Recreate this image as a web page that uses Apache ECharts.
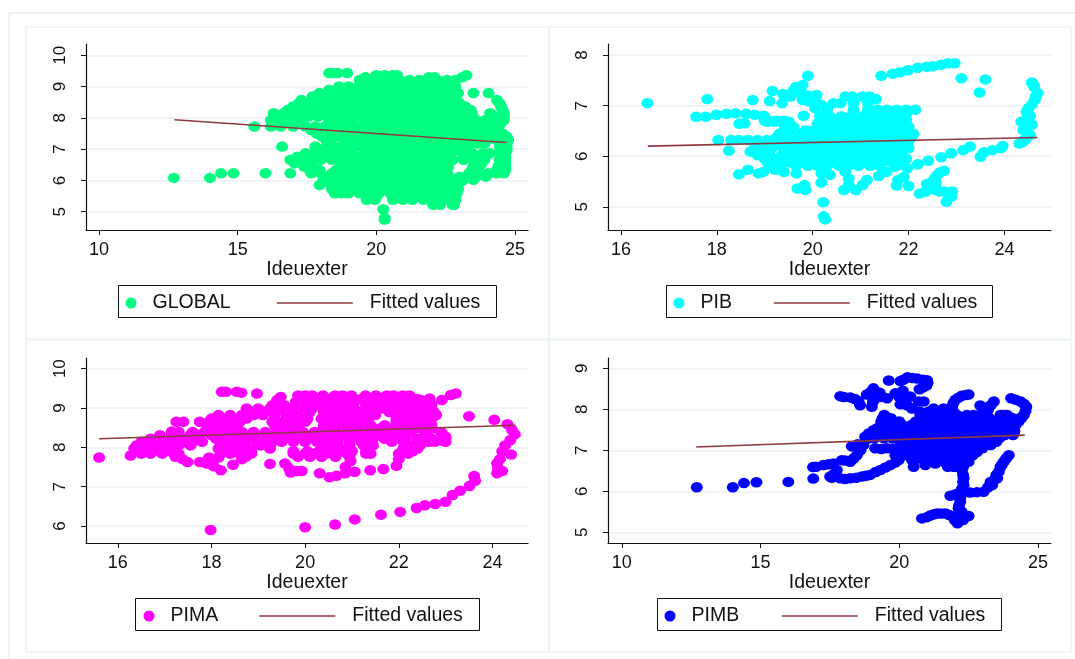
<!DOCTYPE html>
<html><head><meta charset="utf-8">
<style>html,body{margin:0;padding:0;background:#fff}#c{width:1075px;height:659px}</style>
<script src="https://cdn.jsdelivr.net/npm/echarts@6/dist/echarts.min.js"></script>
</head><body><div id="c"></div>
<script>
// Each row: [y, [x, x, ...]]
const globalRows = [
[9.43,[18.3,18.4,18.6,18.95]],
[9.36,[20.0,20.3,20.6,20.75,23.25]],
[9.3,[19.6,21.9,22.1,23.1]],
[9.21,[19.4,19.75,20.1,20.5,20.85,21.2,21.55,21.9,22.2,22.55,22.85]],
[9.1,[19.5,19.9,20.3,20.7,21.05,21.4,21.75,22.1,22.45,22.75]],
[9.0,[18.65,19.0,19.35,19.7,20.1,20.45,20.8,21.15,21.5,21.85,22.2,22.55,22.85]],
[8.9,[18.3,18.85,19.2,19.55,19.95,20.3,20.65,21.0,21.35,21.7,22.05,22.4,22.75]],
[8.79,[17.95,18.3,18.65,19.0,19.4,19.75,20.1,20.5,20.85,21.2,21.55,21.9,22.3,22.65,22.95,23.5,24.05]],
[8.68,[17.7,18.1,18.45,18.85,19.2,19.6,19.95,20.3,20.7,21.05,21.4,21.75,22.1,22.5,22.8]],
[8.57,[17.3,17.7,18.05,18.4,18.8,19.15,19.5,19.9,20.25,20.6,21.0,21.35,21.7,22.05,22.4,22.75,22.9,24.35]],
[8.46,[17.2,17.55,17.95,18.3,18.65,19.05,19.4,19.75,20.1,20.45,20.85,21.2,21.55,21.9,22.3,22.65,23.0,24.45]],
[8.36,[17.0,17.4,17.75,18.1,18.5,18.85,19.2,19.6,19.95,20.3,20.65,21.05,21.4,21.75,22.1,22.5,22.85,23.2,24.5]],
[8.25,[16.8,17.2,17.55,17.9,18.3,18.65,19.05,19.4,19.75,20.1,20.5,20.85,21.2,21.6,21.95,22.3,22.65,23.05,23.4,24.55]],
[8.15,[16.3,16.65,17.0,17.4,17.75,18.1,18.5,18.85,19.2,19.6,19.95,20.3,20.7,21.05,21.4,21.8,22.15,22.5,22.85,23.25,23.45,24.1,24.6]],
[8.04,[16.4,16.8,17.15,17.55,17.9,18.3,18.7,19.0,19.4,19.8,20.15,20.5,20.9,21.25,21.6,21.95,22.35,22.7,23.05,23.45,24.3,24.6]],
[7.93,[16.2,16.55,16.95,17.25,18.3,18.65,18.95,19.65,20.0,20.35,20.7,21.05,21.45,21.8,22.15,22.5,22.9,23.25,23.6,23.95,24.25,24.6]],
[7.83,[16.35,16.7,17.1,18.4,18.75,19.1,19.85,20.2,20.55,20.9,21.3,21.65,22.0,22.35,22.75,23.1,23.45,23.8,24.15,24.5]],
[7.72,[15.6,16.2,16.55,17.0,17.45,17.8,18.15,18.5,18.85,19.4,19.75,20.1,20.45,20.85,21.2,21.55,21.9,22.3,22.65,23.0,23.35,23.75,24.1,24.4]],
[7.61,[17.65,18.0,18.35,18.7,19.2,19.6,19.95,20.3,20.7,21.05,21.4,21.8,22.15,22.5,22.85,23.25,23.6,23.95,24.3]],
[7.5,[17.85,18.2,18.55,19.1,19.45,19.8,20.2,20.55,20.9,21.3,21.65,22.0,22.35,22.75,23.1,23.45,23.85,24.2,24.55]],
[7.4,[18.05,18.4,18.65,19.0,19.35,19.7,20.1,20.45,20.8,21.2,21.55,21.9,22.25,22.65,23.0,23.35,23.75,24.1,24.5,24.7]],
[7.29,[18.2,18.35,18.9,19.25,19.6,19.95,20.35,20.7,21.05,21.45,21.8,22.15,22.5,22.9,23.25,23.6,24.0,24.35,24.6,24.75]],
[7.18,[18.95,19.3,19.65,20.05,20.4,20.75,21.15,21.5,21.85,22.25,22.6,22.95,23.3,23.65,23.9,24.55,24.7]],
[7.08,[16.6,17.8,18.2,18.5,18.75,19.05,19.4,19.8,20.15,20.5,20.9,21.25,21.6,22.0,22.35,22.7,23.05,23.35,24.45,24.7]],
[6.97,[18.1,18.45,18.8,19.0,19.6,19.95,20.3,20.7,21.05,21.4,21.8,22.15,22.5,22.85,23.2,24.5,24.7]],
[6.87,[17.45,17.8,18.1,18.5,18.85,19.1,19.75,20.1,20.45,20.8,21.2,21.55,21.9,22.25,22.65,23.1,23.45,23.85,24.1,24.5,24.65]],
[6.76,[17.15,17.55,17.9,18.25,18.6,19.0,19.3,19.65,20.05,20.4,20.75,21.1,21.5,21.85,22.2,22.55,23.25,23.6,23.85,24.5,24.65]],
[6.66,[16.9,17.3,17.65,18.0,18.4,18.75,19.1,19.45,19.85,20.2,20.55,20.95,21.3,21.65,22.05,22.4,22.75,23.15,23.7,23.9,24.45,24.65]],
[6.55,[17.05,17.4,18.85,19.2,19.6,19.95,20.3,20.7,21.05,21.4,21.75,22.1,22.45,23.55,23.8,24.45,24.65]],
[6.44,[17.4,17.7,18.7,19.05,19.4,19.75,20.15,20.5,20.85,21.25,21.6,21.95,22.35,22.6,23.5,23.7,24.4,24.65]],
[6.33,[17.6,17.95,18.55,18.9,19.25,19.6,20.0,20.35,20.7,21.1,21.45,21.8,22.15,22.5,23.45,23.65,24.35,24.65]],
[6.23,[14.4,14.85,16.0,16.9,17.65,18.0,18.4,18.75,19.1,19.45,19.85,20.2,20.55,20.95,21.3,21.65,22.05,22.4,22.55,23.35,23.7,24.05,24.35,24.6]],
[6.12,[18.2,18.6,18.95,19.3,19.7,20.05,20.4,20.8,21.15,21.5,21.9,22.25,22.6,23.0,23.3,23.6,23.95]],
[6.08,[12.7,14.0]],
[6.02,[18.1,18.45,18.8,19.15,19.5,19.9,20.25,20.6,21.0,21.35,21.7,22.1,22.45,22.8,23.15,23.5]],
[5.93,[18.3,18.65,19.0,19.35,19.75,20.1,20.45,20.85,21.2,21.55,21.95,22.3,22.65,23.0]],
[5.85,[17.95,18.4,18.8,19.2,19.55,19.9,20.3,20.65,21.0,21.4,21.75,22.1,22.5,22.85]],
[5.72,[18.4,18.7,19.0,19.4,19.75,20.1,20.5,20.85,21.2,21.6,21.95,22.3,22.7,22.95]],
[5.59,[18.5,18.75,19.0,19.4,19.75,20.1,20.5,20.85,21.2,21.6,21.95,22.3,22.7,22.9]],
[5.48,[19.7,20.0,20.7,21.05,21.4,21.8,22.15,22.5,22.85]],
[5.38,[19.65,19.95,20.6,20.95,21.3,21.7,22.05,22.4,22.8,22.85]],
[5.22,[22.05,22.3,22.75,22.8]],
[5.08,[20.25]],[4.8,[20.3]],[4.75,[20.3]]
];
const pibRows = [
[7.84,[22.82,22.96]],[7.81,[22.68]],[7.78,[22.51]],[7.77,[22.38]],[7.75,[22.19]],[7.7,[21.99]],[7.66,[21.82]],[7.63,[21.67]],[7.59,[21.43,19.9]],
[7.54,[23.1]],[7.52,[23.6]],[7.46,[24.57]],[7.42,[24.6]],[7.41,[19.79]],[7.37,[24.62,19.65]],[7.35,[19.75]],[7.3,[19.6]],[7.29,[19.16]],[7.26,[23.48]],[7.25,[24.69,19.72]],[7.23,[19.38]],
[7.21,[20.08]],[7.2,[19.9]],[7.18,[19.54,20.68,20.82,21.04,21.18,24.65]],[7.15,[20.05]],[7.13,[17.8,21.32]],[7.11,[18.75,24.63,19.79]],[7.09,[19.1]],[7.08,[19.93]],
[7.05,[16.55,19.36,20.43,20.58,20.85,21.15]],[7.02,[20.18,24.57]],[6.95,[24.5,20.05]],
[6.92,[20.3,20.85,21.15,21.35,21.55,21.75,21.95,22.14]],[6.88,[24.46]],[6.86,[21.96]],[6.84,[18.2,18.61]],[6.85,[18.39]],[6.82,[17.99,18.79]],
[6.8,[18.98,19.81,24.53]],
[6.79,[20.15,20.35,20.6,20.8,21.05,21.25,21.5,21.7,21.9]],[6.78,[17.57,17.77]],[6.75,[24.47]],
[6.72,[20.2,20.45,20.7,20.9,21.15,21.35,21.55,21.8,21.95]],[6.7,[19.0,19.1,19.25,19.4]],
[6.68,[19.05,19.2,19.35,19.5,24.35]],
[6.65,[18.58,20.1,20.3,20.55,20.75,20.95,21.2,21.4,21.6,21.85]],[6.64,[18.47]],[6.62,[24.57]],
[6.58,[19.6,20.2,20.4,20.65,20.85,21.1,21.3,21.5,21.75,21.95,22.0]],[6.52,[24.39]],
[6.51,[19.4,19.6,19.85,20.0,20.3,20.5,20.7,20.95,21.15,21.4,21.6,21.8,22.0]],[6.5,[24.45]],
[6.44,[19.3,19.55,19.75,20.0,20.2,20.4,20.65,20.85,21.1,21.3,21.5,21.75,21.95,22.1]],[6.42,[24.53]],
[6.37,[19.25,19.5,19.7,19.9,20.15,20.35,20.6,20.8,21.0,21.25,21.45,21.7,21.9,22.05]],[6.35,[24.45]],
[6.32,[18.03,18.3,18.45,18.65,18.85,19.05,24.42]],
[6.3,[19.4,19.6,19.85,20.05,20.25,20.5,20.7,20.95,21.15,21.4,21.6,21.8,22.0]],[6.27,[24.36]],[6.25,[24.31]],
[6.23,[18.8,19.05,19.3,19.55,19.75,20.0,20.2,20.45,20.65,20.9,21.1,21.3,21.55,21.75,21.95]],
[6.2,[23.96]],[6.19,[23.28]],[6.16,[23.93,18.9,19.15,19.4,19.6,19.85,20.05,20.25,20.5,20.7,20.95,21.15,21.35,21.6,21.8,22.0]],[6.12,[23.75,23.14]],[6.11,[18.25]],
[6.09,[18.7,18.95,19.45,19.65,19.9,20.1,20.3,20.55,20.75,21.0,21.2,21.4,21.65,21.85]],[6.08,[23.57]],[6.06,[22.89]],
[6.02,[18.85,19.1,19.35,19.6,19.8,20.0,20.2,20.45,20.65,20.9,21.1,21.3,21.55,21.75]],[5.99,[23.5]],[5.98,[22.68]],
[5.95,[19.0,19.25,19.55,19.75,20.0,20.2,20.4,20.65,20.85,21.1,21.3,21.5,21.75,21.95]],[5.91,[22.41]],
[5.88,[19.05,19.3,19.5,19.75,19.95,20.15,20.4,20.6,20.8,21.05,21.25,21.45,21.65,21.85]],[5.84,[22.19]],
[5.81,[19.1,19.3,19.65,19.9,20.1,20.3,20.55,20.75,20.95,21.2,21.4,21.75]],[5.79,[21.72]],[5.76,[21.97]],
[5.73,[18.65,19.22]],[5.71,[22.74]],[5.69,[18.97,19.4,20.68,21.54]],[5.68,[22.65]],[5.66,[18.87,19.66,20.18]],[5.64,[18.46]],[5.63,[20.36,22.6]],[5.61,[21.38]],
[5.59,[21.9]],[5.57,[22.55]],[5.56,[20.75]],[5.53,[21.13,21.78]],[5.5,[22.5]],[5.48,[20.18]],[5.46,[22.57]],[5.45,[22.38]],[5.43,[19.83,20.75,21.04]],[5.42,[21.75]],[5.41,[22.0]],
[5.36,[19.68]],[5.35,[22.45]],[5.33,[19.85,20.65,20.9,22.57]],[5.3,[22.36,22.65,22.75,22.91]],[5.26,[22.23]],[5.25,[22.85]],[5.2,[22.89]],[5.1,[22.79]],[5.09,[20.22]],[4.81,[20.23]],[4.75,[20.26]]
];
const pimaRows = [
[9.41,[18.22,18.31,18.54]],[9.39,[18.64]],[9.37,[18.97,23.22]],[9.33,[23.11]],
[9.32,[19.85,20.0,20.15,20.38,20.64,20.8,20.99,21.29,21.51,21.74,21.89,22.08,22.23]],[9.28,[19.48]],[9.24,[22.66]],
[9.23,[19.95,20.2,20.5,20.75,21.0,21.2,21.45,21.7,21.95,22.2,22.4]],[9.2,[19.4,22.47,22.92]],
[9.15,[19.8,20.05,20.3,20.55,20.8,21.05,21.3,21.6,21.85,22.1,22.35,22.55,22.65]],
[9.07,[19.3,19.55,19.8,20.0,20.25,20.5,20.75,21.0,21.3,21.5,21.75,22.0,22.25,22.5,22.7]],
[8.99,[18.75,19.0,19.25,19.45,19.65,19.9,20.15,20.55,20.8,21.05,21.4,21.65,21.9,22.15,22.4,22.65]],
[8.9,[18.85,19.1,19.35,19.6,19.8,20.1,20.4,20.7,20.95,21.2,21.5,21.8,22.05,22.3,22.55,22.75]],
[8.82,[18.15,18.4,18.65,18.9,19.1,19.35,19.6,19.85,20.5,20.75,21.0,21.25,21.5,22.05,22.3,22.55,22.8]],[8.79,[23.5]],
[8.73,[18.0,18.25,18.5,18.75,19.35,19.6,19.8,20.05,20.35,20.6,20.85,21.1,21.35,21.95,22.2,22.45,22.7]],[8.7,[24.04]],
[8.65,[17.25,17.4,17.75,17.95,18.2,18.4,18.6,19.3,19.55,19.8,20.0,20.5,20.7,20.95,21.2,21.95,22.2,22.45,22.65]],[8.59,[24.32]],
[8.56,[17.9,18.1,18.35,18.55,19.35,19.6,19.85,20.4,20.65,20.9,21.15,21.4,21.7,22.0,22.25,22.5,22.7]],
[8.48,[18.0,18.25,18.45,19.4,19.6,19.85,20.4,20.65,20.9,21.15,21.4,21.6,21.85,22.1,22.35,22.55,22.7]],[8.44,[24.42]],[8.4,[17.15]],
[8.39,[17.3,17.6,17.85,18.1,18.35,18.65,18.9,19.15,19.4,19.7,19.95,20.2,20.45,20.7,20.95,21.2,21.45,21.7,21.95,22.25,22.55,22.9]],[8.35,[22.92]],[8.33,[24.48]],
[8.31,[16.9,17.15,17.55,17.75,18.0,18.25,18.5,18.7,18.95,19.2,19.45,19.65,19.9,20.1,20.4,20.65,20.85,21.1,21.3,21.55,21.8,22.0,22.6,22.95]],[8.27,[23.0]],
[8.22,[16.7,16.95,17.2,17.4,17.65,18.1,18.35,18.6,18.9,19.2,19.45,19.7,19.95,20.2,20.45,20.7,20.95,21.2,21.45,21.7,21.9,22.15,22.4,22.7,23.0]],[8.18,[24.38]],[8.16,[22.96]],
[8.14,[16.5,16.7,16.95,17.2,17.45,17.6,17.8,18.2,18.45,18.7,19.0,19.3,19.5,19.75,20.0,20.25,20.5,20.7,20.95,21.2,21.4,21.85,22.1,22.4,22.65,22.77,23.0]],[8.1,[22.47]],
[8.05,[24.27,16.4,16.6,16.8,17.05,17.3,17.55,18.2,18.45,18.7,19.05,19.25,20.45,20.7,20.95,21.25,21.45,22.2,22.45]],
[7.97,[16.35,16.55,16.75,17.0,17.25,18.15,18.35,18.55,18.85,19.25,20.4,20.6,20.9,21.35,22.1,22.36,22.4]],[7.93,[22.2]],
[7.9,[24.21,16.45,16.7,16.9,17.15,18.2,18.4,18.65,18.85,19.75,20.05,20.3,20.55,20.8,21.0,21.3,22.1,22.3]],[7.87,[22.06]],
[7.84,[16.5,16.7,16.95,17.2,17.3,18.2,18.4,18.6,18.85,19.75,20.0,20.2,20.45,20.65,20.9,21.3,21.4,22.0,22.2]],[7.82,[24.4]],[7.79,[16.27]],
[7.76,[17.23,18.73,19.85,20.1,20.35,20.65,20.95]],[7.74,[15.6,17.95,18.15]],[7.7,[17.38,18.65,22.0,24.16]],[7.65,[20.97]],[7.63,[17.49,17.75]],[7.59,[17.9,19.57,24.1]],[7.58,[19.25]],
[7.56,[18.46]],[7.53,[21.95]],[7.52,[18.05]],[7.5,[20.86]],[7.46,[19.66,24.12]],[7.45,[21.67]],[7.42,[18.2,21.39]],[7.4,[19.81,19.93,24.21]],[7.38,[21.06]],[7.36,[19.69]],
[7.34,[20.31,20.86,24.1]],[7.28,[20.67]],[7.27,[23.61]],[7.24,[20.52]],[7.15,[23.63]],[7.02,[23.51]],[6.9,[23.31]],[6.79,[23.15]],[6.62,[23.0]],[6.56,[22.78]],[6.53,[22.56]],[6.46,[22.38]],
[6.36,[22.03]],[6.29,[21.62]],[6.17,[21.06]],[6.04,[20.64]],[5.97,[20.0]],[5.9,[17.98]]
];
const pimbRows = [
[8.78,[20.3]],[8.76,[20.47]],[8.75,[20.64]],[8.72,[20.15,20.85]],[8.71,[21.0]],[8.7,[19.62]],[8.69,[20.04]],[8.65,[21.02]],[8.58,[20.98]],[8.53,[20.85]],[8.51,[19.07]],[8.49,[20.73]],[8.45,[20.13]],
[8.42,[18.97]],[8.4,[19.3]],[8.39,[19.86]],[8.36,[18.83,22.5]],[8.35,[22.4]],[8.33,[22.25]],
[8.32,[17.87]],[8.31,[20.4]],[8.3,[18.0,19.3,20.0]],[8.29,[18.23]],[8.28,[22.13]],[8.27,[19.13,19.56,20.16,24.03]],[8.25,[18.4]],[8.23,[22.02,24.2]],[8.2,[18.53]],[8.19,[20.7,20.88,23.41,24.37]],[8.18,[19.05]],[8.15,[21.95]],[8.13,[24.5]],[8.12,[20.04]],[8.1,[18.59,20.28,23.3]],[8.09,[22.92]],
[8.06,[19.01,21.9,24.58]],[8.03,[23.1]],
[8.02,[20.46,21.24,21.6,21.9]],[7.98,[23.2]],[7.95,[24.55]],
[7.94,[20.75,21.05,21.35,21.7,21.95]],
[7.86,[19.46,20.76,21.12,21.48,21.84,22.08,22.44,22.68,22.9,23.04,23.65,23.75,23.89,24.49]],
[7.78,[19.4,19.7,20.8,21.1,21.45,21.8,22.1,22.5,22.85,23.25,23.65,24.0,24.1,24.35,24.4]],
[7.7,[19.35,19.65,20.0,20.6,20.95,21.3,21.65,22.0,22.3,22.7,23.0,23.45,23.8,24.1,24.3]],
[7.62,[19.35,19.7,20.1,20.45,20.8,21.15,21.5,21.85,22.15,22.5,22.85,23.15,23.55,23.9,24.2]],
[7.54,[19.2,19.5,19.85,20.2,20.5,20.85,21.2,21.55,21.9,22.25,22.6,22.95,23.3,23.65,24.0]],[7.49,[19.07]],
[7.46,[19.35,19.65,20.05,20.35,20.7,21.05,21.4,21.75,22.1,22.45,22.8,23.15,23.5,23.85,24.15]],[7.41,[18.9]],
[7.37,[19.0,19.3,19.6,19.95,20.3,20.65,21.0,21.35,21.7,22.05,22.4,22.75,23.1,23.45,23.8,24.1]],[7.33,[18.77]],
[7.29,[18.9,19.1,19.45,19.75,20.15,20.5,20.85,21.2,21.55,21.9,22.25,22.6,22.95,23.3,23.6]],
[7.21,[20.05,20.4,20.75,21.1,21.45,21.8,22.15,22.5,22.85,23.2,23.5]],[7.15,[18.5]],[7.13,[18.71,20.2,20.55,20.9,21.25,21.6,21.95,22.3,22.65,23.0,23.3]],[7.1,[18.29]],
[7.05,[19.13,19.56,20.04,20.2,20.55,20.9,21.25,21.6,21.95,22.3,22.65,23.0]],[7.04,[19.8]],[7.03,[19.35]],[7.0,[18.6]],
[6.96,[20.35,20.7,21.05,21.45,21.8,22.1,22.5,22.8]],[6.9,[20.1]],
[6.88,[18.47,19.86,20.3,20.6,20.95,21.3,21.65,22.0,22.35,22.65,23.95]],[6.8,[18.35,20.7,21.1,21.45,21.8,22.15,22.45,23.85]],[6.76,[17.93,19.98,20.46]],[6.75,[18.05]],
[6.72,[18.23,21.35,21.6,21.95,22.3,22.5,23.77]],[6.7,[19.85]],[6.68,[17.63,21.3]],[6.66,[17.45]],[6.65,[23.7]],[6.64,[17.27,19.68,20.94,21.85,22.2]],[6.6,[17.0,20.52,21.75,21.96,22.0,22.3,23.65]],[6.59,[16.89]],[6.58,[19.5]],
[6.52,[17.75,19.32,22.26]],[6.48,[23.59]],[6.47,[19.15]],[6.42,[17.65]],[6.4,[18.95,22.3,23.5]],[6.38,[18.8]],[6.36,[17.51,18.65]],[6.33,[17.57,18.45]],[6.32,[17.87,18.23,22.32,23.53]],[6.31,[16.9]],[6.3,[18.05]],[6.27,[23.41]],[6.23,[16.0,23.29,22.3]],[6.22,[14.85]],
[6.2,[14.4,23.35]],[6.15,[22.32,23.35]],[6.1,[12.7,14.0,23.2]],[6.05,[22.25]],[6.0,[22.35]],[5.99,[23.04]],[5.98,[22.8]],[5.97,[22.56]],[5.95,[22.14]],[5.92,[22.0]],[5.89,[21.84]],[5.85,[22.2]],[5.75,[22.2]],[5.65,[22.15]],[5.58,[22.14]],[5.5,[22.25]],
[5.46,[21.36,21.5,21.66]],[5.44,[21.25]],[5.42,[22.32,21.8]],[5.41,[21.12]],
[5.4,[22.5]],[5.38,[21.96]],[5.37,[21.0]],[5.34,[20.82,22.1]],[5.3,[22.0,22.15,22.3]],[5.26,[22.08]],[5.22,[22.1]]
];
const fitGlobal = [[12.72,7.94],[24.7,7.21]];
const fitPib = [[16.56,6.2],[24.69,6.37]];
const fitPima = [[15.6,8.22],[24.5,8.56]];
const fitPimb = [[12.68,7.08],[24.52,7.37]];
const ticksX = [[10,15,20,25],[16,18,20,22,24],[16,18,20,22,24],[10,15,20,25]];
const ticksY = [[5,6,7,8,9,10],[5,6,7,8],[6,7,8,9,10],[5,6,7,8,9]];
const names = ['GLOBAL','PIB','PIMA','PIMB'];
const colors = ['#00ff80','#00ffff','#ff00ff','#0000ff'];
const xTitle = 'Ideuexter';
const fitName = 'Fitted values';

const flatten = rows => rows.flatMap(r => r[1].map(x => [x, r[0]]));
const rowsAll = [globalRows, pibRows, pimaRows, pimbRows];
const fits = [fitGlobal, fitPib, fitPima, fitPimb];
const font = 'Liberation Sans';
const frameColor = '#edf3f5';
const lineColor = '#8f3a42';

const boxes = [
 {l:86,w:442,t:44,h:186,xr:[9.53,25.47],yr:[4.415,10.36]},
 {l:608,w:443,t:44,h:186,xr:[15.73,24.97],yr:[4.54,8.22]},
 {l:86,w:442,t:358,h:185,xr:[15.32,24.76],yr:[5.57,10.27]},
 {l:608,w:443,t:358,h:185,xr:[9.5,25.47],yr:[4.74,9.25]}
];
const legends = [
 {x0:118,x1:496,y:285,m:131,line:276},
 {x0:666,x1:992,y:285,m:679,line:773},
 {x0:135,x1:479,y:598,m:149,line:258.5},
 {x0:657,x1:1001,y:598,m:670,line:781}
];

const option = {
 animation:false, backgroundColor:'#fff',
 grid: boxes.map(b=>({left:b.l,top:b.t,width:b.w,height:b.h,containLabel:false})),
 xAxis: boxes.map((b,i)=>({gridIndex:i,type:'value',min:b.xr[0],max:b.xr[1],name:xTitle,nameLocation:'middle',nameGap:27,
   nameTextStyle:{fontFamily:font,fontSize:19.5,color:'#111'},
   axisLine:{onZero:false,lineStyle:{color:'#111',width:1.2}},
   axisTick:{length:5,customValues:ticksX[i],lineStyle:{color:'#111',width:1}},
   axisLabel:{customValues:ticksX[i],fontFamily:font,fontSize:18,color:'#111',margin:11},
   splitLine:{show:false}})),
 yAxis: boxes.map((b,i)=>({gridIndex:i,type:'value',min:b.yr[0],max:b.yr[1],
   axisLine:{onZero:false,lineStyle:{color:'#111',width:1.2}},
   axisTick:{length:5,customValues:ticksY[i],lineStyle:{color:'#111',width:1}},
   axisLabel:{customValues:ticksY[i],fontFamily:font,fontSize:17,color:'#111',rotate:90,margin:17},
   splitLine:{show:true,lineStyle:{color:'#eaf2f3',width:1.5}}})),
 legend: legends.flatMap((g,i)=>[
  {left:g.m-5.5,top:g.y+8,padding:0,data:[{name:names[i],icon:'circle'}],itemWidth:33,itemHeight:11,selectedMode:false,
   textStyle:{fontFamily:font,fontSize:19.5,color:'#111'}},
  {left:g.line,top:g.y+8,padding:0,data:[fitName],itemWidth:76,itemHeight:14,selectedMode:false,
   itemStyle:{opacity:0},lineStyle:{color:lineColor,width:1.6,opacity:1},
   textStyle:{fontFamily:font,fontSize:19.5,color:'#111',padding:[0,0,0,12]}}
 ]),
 series: names.flatMap((n,i)=>[
  {name:n,type:'scatter',xAxisIndex:i,yAxisIndex:i,data:flatten(rowsAll[i]),symbol:'circle',symbolSize:[12,10.5],
   itemStyle:{color:colors[i],opacity:1},silent:true,z:2},
  {name:fitName,type:'line',xAxisIndex:i,yAxisIndex:i,data:fits[i],showSymbol:false,symbol:'none',
   lineStyle:{color:lineColor,width:1.6},itemStyle:{color:lineColor},silent:true,z:3}
 ]),
 graphic: [
  ...[[9,13,1075,13],[9,13,9,659]].map(s=>({type:'line',shape:{x1:s[0],y1:s[1],x2:s[2],y2:s[3]},style:{stroke:'#edf3f7',lineWidth:2},z:0})),
  ...[[26,27,523,312],[549,27,522,312],[26,340,523,312],[549,340,522,312]].map(r=>({type:'rect',shape:{x:r[0],y:r[1],width:r[2],height:r[3]},style:{fill:'none',stroke:frameColor,lineWidth:1.5},z:0})),
  ...legends.map(g=>({type:'rect',shape:{x:g.x0+.5,y:g.y+.5,width:g.x1-g.x0,height:32},style:{fill:'none',stroke:'#111',lineWidth:1},z:1}))
 ]
};
echarts.init(document.getElementById('c'),null,{renderer:'canvas'}).setOption(option);
</script></body></html>
